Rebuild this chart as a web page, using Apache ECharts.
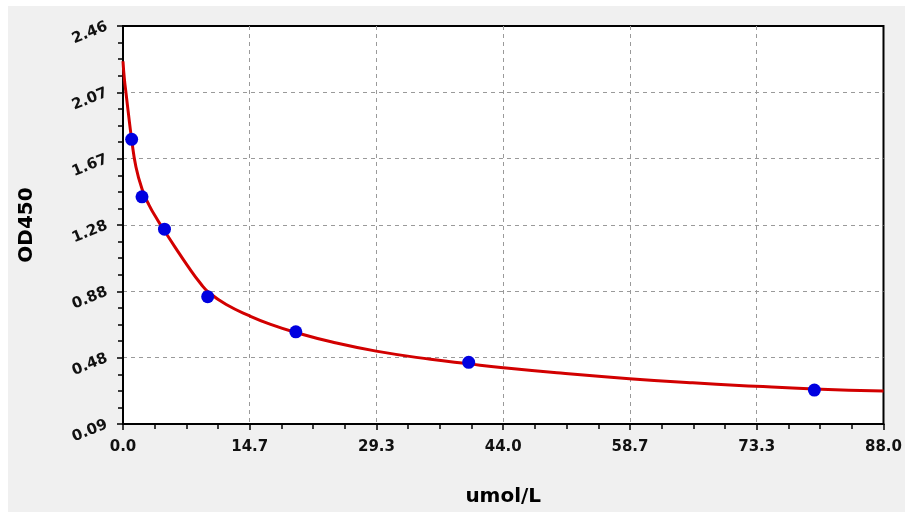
<!DOCTYPE html>
<html>
<head>
<meta charset="utf-8">
<script src="https://cdn.jsdelivr.net/npm/echarts@6/dist/echarts.min.js"></script>
<style>
html,body{margin:0;padding:0;background:#fff;}
#bg{position:absolute;left:8px;top:6px;width:897px;height:506px;background:#f0f0f0;}
#c{position:absolute;left:0;top:0;width:905px;height:512px;}
</style>
</head>
<body>
<div id="bg"></div>
<div id="c"></div>
<script>
// ---- data ----
const xTickLabels = ['0.0', '14.7', '29.3', '44.0', '58.7', '73.3', '88.0'];
const yTickLabels = ['0.09', '0.48', '0.88', '1.28', '1.67', '2.07', '2.46'];

const pointX = [1.0, 2.2, 4.8, 9.8, 20, 40, 80];
const pointY = [1.785, 1.443, 1.25, 0.848, 0.639, 0.457, 0.292];

const curveX = [0, 0.15, 0.35, 0.6, 1.0, 1.5, 2.2, 3.0, 4.0, 4.8, 6.0, 7.5, 9.0, 10.0, 12.0, 14.6, 17.0, 20.0, 24.2, 29.3, 35.6, 40.0, 44.0, 50.2, 58.6, 65.9, 73.2, 80.0, 88.0];
const curveY = [2.25, 2.15, 2.06, 1.95, 1.785, 1.62, 1.49, 1.395, 1.305, 1.24, 1.145, 1.03, 0.925, 0.87, 0.80, 0.735, 0.685, 0.635, 0.578, 0.524, 0.475, 0.448, 0.425, 0.395, 0.36, 0.335, 0.315, 0.299, 0.286];

const X_MIN = 0, X_MAX = 88, X_STEP = 88 / 6;
const Y_MIN = 0.09, Y_MAX = 2.46, Y_STEP = 0.395;

const chart = echarts.init(document.getElementById('c'), null, {renderer: 'canvas'});
const font = 'DejaVu Sans';
const axisCommon = {
  axisLine: {show: true, onZero: false, lineStyle: {color: '#000', width: 2}},
  axisTick: {show: true, inside: false, length: 6, lineStyle: {color: '#000', width: 1.5}},
  minorTick: {show: true, splitNumber: 4, length: 5, lineStyle: {color: '#000', width: 1.5}},
  splitLine: {show: true, showMinLine: false, showMaxLine: false, lineStyle: {color: '#9a9a9a', type: [4, 4], width: 1}},
  minorSplitLine: {show: false}
};

chart.setOption({
  animation: false,
  grid: {
    left: 123, top: 26, right: 16, bottom: 88,
    show: true, backgroundColor: '#fff', borderColor: '#000', borderWidth: 2
  },
  xAxis: Object.assign({
    type: 'value', min: X_MIN, max: X_MAX, interval: X_STEP,
    name: 'umol/L', nameLocation: 'middle', nameGap: 63,
    nameTextStyle: {fontFamily: font, fontWeight: 'bold', fontSize: 20, color: '#000'},
    axisLabel: {
      margin: 16, fontFamily: font, fontWeight: 'bold', fontSize: 15, color: '#111',
      formatter: v => { const i = Math.round((v - X_MIN) / X_STEP); return xTickLabels[i] || ''; }
    }
  }, axisCommon),
  yAxis: Object.assign({
    type: 'value', min: Y_MIN, max: Y_MAX, interval: Y_STEP,
    name: 'OD450', nameLocation: 'middle', nameGap: 86,
    nameTextStyle: {fontFamily: font, fontWeight: 'bold', fontSize: 20, color: '#000'},
    axisLabel: {
      margin: 16, rotate: 22, fontFamily: font, fontWeight: 'bold', fontSize: 15, color: '#111',
      formatter: v => { const i = Math.round((v - Y_MIN) / Y_STEP); return yTickLabels[i] || ''; }
    }
  }, axisCommon),
  series: [
    {
      type: 'line', smooth: 0.5, symbol: 'none',
      data: curveX.map((x, i) => [x, curveY[i]]),
      lineStyle: {color: '#d20000', width: 3},
      z: 3
    },
    {
      type: 'scatter', symbol: 'circle', symbolSize: 13,
      data: pointX.map((x, i) => [x, pointY[i]]),
      itemStyle: {color: '#0000e0', opacity: 1},
      z: 4
    }
  ]
});
</script>
</body>
</html>
